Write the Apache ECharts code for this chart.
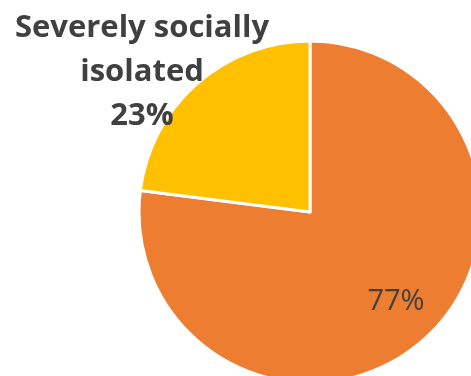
<!DOCTYPE html>
<html>
<head>
<meta charset="utf-8">
<script src="https://cdn.jsdelivr.net/npm/echarts@6/dist/echarts.min.js"></script>
<style>
html,body{margin:0;padding:0;background:#fff;}
#main{width:471px;height:376px;}
</style>
</head>
<body>
<div id="main"></div>
<script>
var names = ['', 'Severely socially\nisolated'];
var values = [77, 23];
var colors = ['#ED7D31', '#FFC000'];

var chart = echarts.init(document.getElementById('main'));

var data = [];
for (var i = 0; i < values.length; i++) {
	data.push({ name: names[i], value: values[i], itemStyle: { color: colors[i] } });
}

// plain % inside the big slice, big bold label up-left for the small one
data[0].label = {
	formatter: '{c}%',
	fontSize: 29,
	fontWeight: 'normal'
};
data[1].label = {
	formatter: '{b}\n{c}%',
	fontSize: 31,
	fontWeight: 'bold',
	lineHeight: 44
};

// where the two labels sit
var labelPos = [[396, 302], [142, 72]];

chart.setOption({
	animation: false,
	series: [{
		type: 'pie',
		center: [310, 212],
		radius: 171,
		startAngle: 90,
		clockwise: true,
		itemStyle: { borderColor: '#fff', borderWidth: 3 },
		label: {
			position: 'inside',
			fontFamily: 'Open Sans',
			color: '#404040',
			align: 'center',
			overflow: 'none'
		},
		labelLine: { show: false },
		labelLayout: function (params) {
			var p = labelPos[params.dataIndex];
			return { x: p[0], y: p[1], align: 'center', verticalAlign: 'middle' };
		},
		data: data
	}]
});
</script>
</body>
</html>
